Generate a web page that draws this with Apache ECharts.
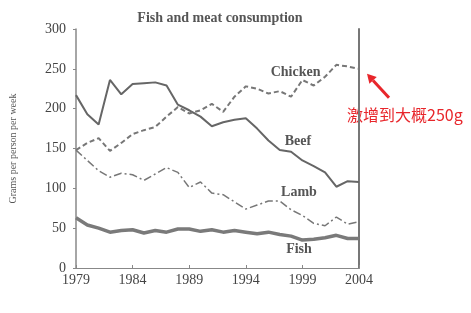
<!DOCTYPE html>
<html><head><meta charset="utf-8">
<script src="https://cdn.jsdelivr.net/npm/echarts@6/dist/echarts.min.js"></script>
<style>html,body{margin:0;padding:0;background:#fff}#c{width:471px;height:313px}</style>
</head><body><div id="c"></div>
<script>
const years = [1979,1980,1981,1982,1983,1984,1985,1986,1987,1988,1989,1990,1991,1992,1993,1994,1995,1996,1997,1998,1999,2000,2001,2002,2003,2004];
const beef    = [217,193,180,236,218,231,232,233,229,205,198,190,178,183,186,188,175,160,148,146,135,128,120,102,109,108];
const chicken = [148,157,163,147,157,168,173,177,190,202,194,198,206,196,215,228,225,219,222,215,236,229,240,255,253,250];
const lamb    = [148,135,122,114,119,117,110,118,126,120,101,108,94,92,83,74,79,84,84,73,66,56,53,64,55,58];
const fish    = [63,54,50,45,47,48,44,47,45,49,49,46,48,45,47,45,43,45,42,40,35,36,38,41,37,37];
const xTicks = [1979,1984,1989,1994,1999,2004];
const yTicks = [0,50,100,150,200,250,300];
const title = 'Fish and meat consumption';
const yName = 'Grams per person per week';
const note = '激增到大概250g';
const labelPos = {Beef:[1998.6,159], Chicken:[1998.4,246], Lamb:[1998.7,95], Fish:[1998.7,23]};

const serif = '"Liberation Serif","DejaVu Serif",serif';
const pair = arr => years.map((y,i)=>[y,arr[i]]);
function mk(name, data, style){
  return {
    name, type:'line', data:pair(data), symbol:'none', smooth:false, lineStyle:style,
    z: 3,
    markPoint:{
      symbol:'circle', symbolSize:0, silent:true,
      data:[{coord:labelPos[name], value:name}],
      label:{show:true, position:'inside', formatter:name, color:'#555', fontFamily:serif, fontSize:14, fontWeight:'bold'}
    }
  };
}
const chart = echarts.init(document.getElementById('c'));
chart.setOption({
  animation:false,
  backgroundColor:'#fff',
  title:{text:title, left:215, top:6, textAlign:'center',
    textStyle:{fontFamily:serif, fontSize:14, fontWeight:'bold', color:'#555'}},
  grid:{left:73, right:112, top:29, bottom:45},
  xAxis:{type:'value', min:xTicks[0], max:xTicks[xTicks.length-1], interval:5,
    splitLine:{show:false},
    axisLine:{lineStyle:{color:'#888', width:1}},
    axisTick:{show:true, length:3, inside:true, lineStyle:{color:'#888'}},
    axisLabel:{color:'#444', fontFamily:serif, fontSize:14, margin:5, formatter:v=>String(v)}},
  yAxis:[{type:'value', min:yTicks[0], max:yTicks[yTicks.length-1], interval:50,
    name:yName, nameLocation:'middle', nameGap:58, nameRotate:90,
    nameTextStyle:{fontFamily:serif, fontSize:10, color:'#555'},
    splitLine:{show:false},
    axisLine:{show:true, lineStyle:{color:'#888', width:1.5}},
    axisTick:{show:true, length:3, lineStyle:{color:'#888'}},
    axisLabel:{color:'#444', fontFamily:serif, fontSize:14, margin:10}},
   {type:'value', position:'right', min:0, max:300, interval:50,
    splitLine:{show:false}, axisLabel:{show:false}, axisTick:{show:false},
    axisLine:{show:true, lineStyle:{color:'#777', width:2}}}],
  series:[
    mk('Beef', beef, {color:'#666', width:2}),
    mk('Chicken', chicken, {color:'#777', width:2, type:[5,3]}),
    mk('Lamb', lamb, {color:'#777', width:1.5, type:[8,3,2,3]}),
    mk('Fish', fish, {color:'#7a7a7a', width:3.5})
  ]
});
const p = chart.convertToPixel({gridIndex:0}, [years[years.length-1], chicken[chicken.length-1]]);
const tip = [p[0]+8, p[1]+5], tail = [p[0]+30, p[1]+29];
const ang = Math.atan2(tip[1]-tail[1], tip[0]-tail[0]);
const hl = 9, hw = 5;
const bx = tip[0]-hl*Math.cos(ang), by = tip[1]-hl*Math.sin(ang);
chart.setOption({graphic:[
  {type:'line', shape:{x1:tail[0], y1:tail[1], x2:bx, y2:by}, style:{stroke:'#e8262b', lineWidth:3}},
  {type:'polygon', shape:{points:[tip,[bx-hw*Math.sin(ang), by+hw*Math.cos(ang)],[bx+hw*Math.sin(ang), by-hw*Math.cos(ang)]]}, style:{fill:'#e8262b'}},
  {type:'text', x:p[0]-12, y:p[1]+46, style:{text:note, fill:'#e8262b', fontSize:16, fontFamily:'"Noto Sans CJK SC","Noto Sans",sans-serif', textVerticalAlign:'middle'}}
]});
</script></body></html>
